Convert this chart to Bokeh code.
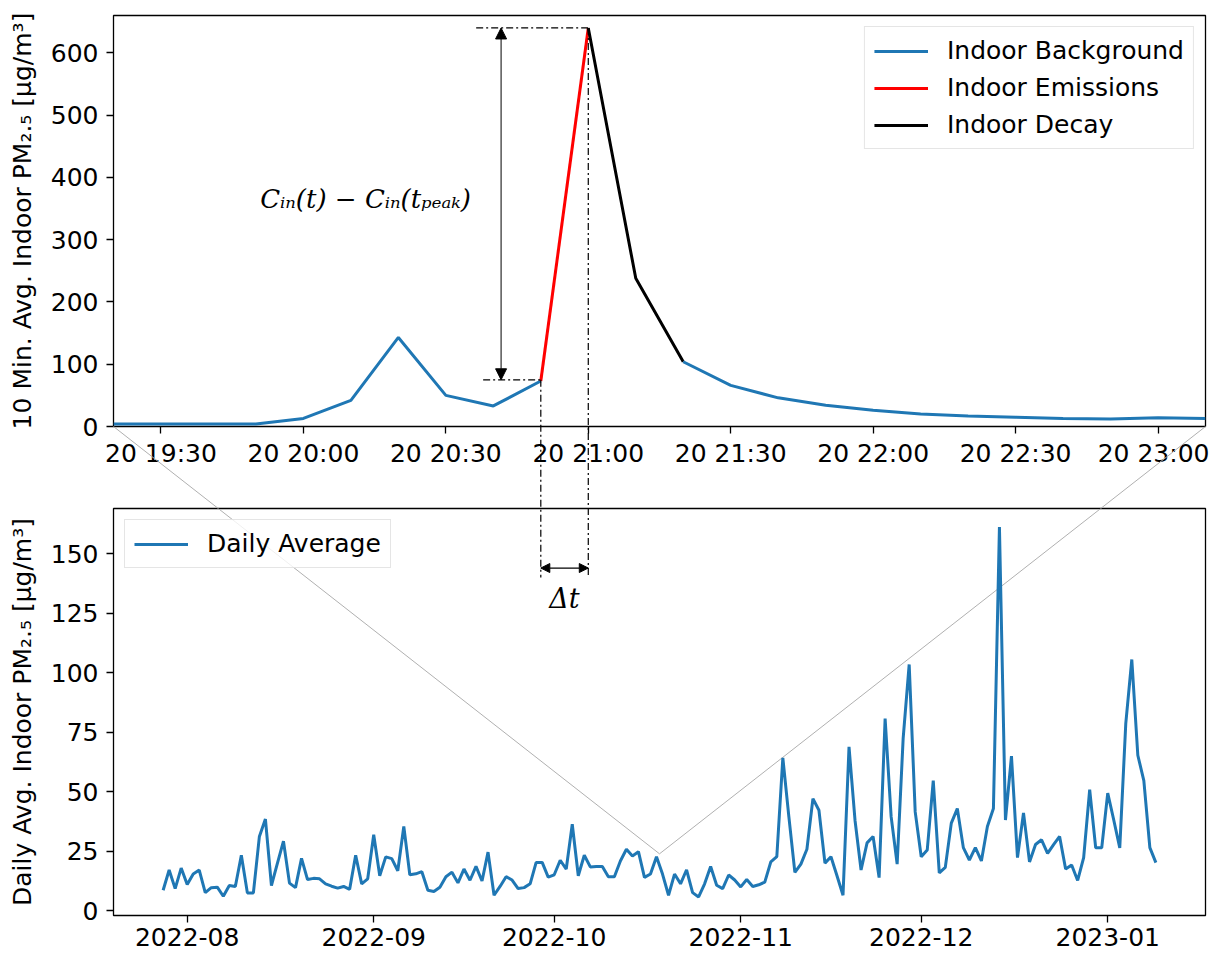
import pandas as pd
from bokeh.plotting import figure
from bokeh.models import (Range1d, FixedTicker, DatetimeTickFormatter, Legend, LegendItem,
                          Arrow, NormalHead, Label)
from bokeh.layouts import column
from bokeh.embed import file_html
from bokeh.resources import INLINE

# ---------------- data ----------------
top_start = "2022-10-20 19:20"
top_end = "2022-10-20 23:10"
top_pm = [4, 4, 4, 4, 13, 42, 143, 50, 33, 73, 640, 238, 104, 66, 46, 34, 26, 20, 17,
          15, 13, 12, 14, 13]
top_ticks = ["2022-10-20 19:30", "2022-10-20 20:00", "2022-10-20 20:30", "2022-10-20 21:00",
             "2022-10-20 21:30", "2022-10-20 22:00", "2022-10-20 22:30", "2022-10-20 23:00"]
top_yticks = [0, 100, 200, 300, 400, 500, 600]

daily_start = "2022-07-28"
daily_end = "2023-01-09"
daily_pm = [8.7, 17.2, 9.4, 18.0, 11.1, 15.5, 17.2, 7.7, 9.8, 10.0, 6.2, 10.7, 10.3, 23.4, 7.6, 7.6,
            31.3, 38.6, 10.7, 20.1, 29.3, 11.7, 9.8, 22.1,
            13.2, 13.7, 13.5, 11.4, 10.4, 9.6, 10.3, 9.1, 23.4, 11.4, 13.5, 32.0, 14.8, 22.7, 22.0,
            16.9, 35.5, 15.2, 15.6, 16.5, 8.7, 8.2, 10.0, 14.4,
            16.3, 11.8, 17.6, 12.9, 18.7, 12.6, 24.7, 6.6, 10.3, 14.4, 13.0, 9.4, 9.8, 11.4, 20.4,
            20.4, 14.2, 15.2, 21.3, 17.6, 36.4, 14.8, 23.4, 18.5,
            18.7, 18.7, 14.4, 14.4, 21.0, 25.9, 23.1, 24.9, 14.1, 15.5, 22.8, 15.5, 6.6, 15.5, 11.4,
            17.3, 7.7, 5.9, 11.4, 18.7, 10.8, 9.4, 15.1, 13.0,
            10.1, 13.2, 10.3, 11.0, 12.1, 20.6, 22.8, 64.3, 39.6, 16.2, 19.7, 25.9, 47.2, 42.3, 20.1,
            22.8, 14.8, 6.6, 68.9, 38.0, 17.2, 28.6, 31.3, 14.0,
            80.8, 39.6, 19.7, 72.6, 103.5, 41.6, 22.8, 25.6, 54.7, 16.0, 18.3, 36.9, 43.0, 26.6, 21.4,
            26.6, 21.0, 35.5, 43.0, 161.2, 38.2, 65.0, 22.4, 41.2,
            20.6, 27.9, 29.9, 24.2, 27.9, 31.3, 17.6, 19.3, 12.8, 22.4, 50.9, 26.5, 26.5, 49.5, 38.2,
            26.5, 78.8, 105.6, 65.4, 54.7, 26.6, 20.3]
bottom_ticks = ["2022-08-01", "2022-09-01", "2022-10-01", "2022-11-01", "2022-12-01", "2023-01-01"]
bottom_yticks = [0, 25, 50, 75, 100, 125, 150]

# segment boundaries (indices into top series)
i_emis_start, i_peak, i_decay_end = 9, 10, 12


def ms(s):
    return pd.Timestamp(s).value / 1e6


top_times = pd.date_range(top_start, top_end, freq="10min")
daily_dates = pd.date_range(daily_start, daily_end, freq="D")
top_t_ms = [t.value / 1e6 for t in top_times]

FONT = "DejaVu Sans"
FS = "25px"
BLUE = "#1f77b4"
GREY = "#b0b0b0"
DAY = 86400000.0

# ranges
T0, T1 = ms(top_start), ms(top_end)
TY0, TY1 = 0, 660
B0 = ms(daily_start) - 8.25 * DAY
B1 = ms(daily_end) + 8.25 * DAY
BY0, BY1 = -1.9, 169

# layout (pixels)
W = 1209
FL, FR = 113, 1205
SPLIT = 475                 # where the top canvas ends and the lower one begins
TOTAL = 957
TOP_FT, TOP_FB = 15, 426
BOT_FT, BOT_FB = 508, 915


def page_y_top(v):
    return TOP_FB - (v - TY0) / (TY1 - TY0) * (TOP_FB - TOP_FT)


def top_v(py):
    return TY0 + (TOP_FB - py) / (TOP_FB - TOP_FT) * (TY1 - TY0)


def page_y_bot(v):
    return BOT_FB - (v - BY0) / (BY1 - BY0) * (BOT_FB - BOT_FT)


def bot_v(py):
    return BY0 + (BOT_FB - py) / (BOT_FB - BOT_FT) * (BY1 - BY0)


def bx(t):
    return B0 + (t - T0) / (T1 - T0) * (B1 - B0)


def tx(b):
    return T0 + (b - B0) / (B1 - B0) * (T1 - T0)


def tfrac(f):
    return T0 + f * (T1 - T0)


def style(p, yticks, xticks, xfmt):
    p.xgrid.visible = False
    p.ygrid.visible = False
    p.outline_line_color = "black"
    p.outline_line_width = 1.3
    p.background_fill_color = "white"
    p.border_fill_color = "white"
    p.yaxis.ticker = FixedTicker(ticks=yticks)
    p.xaxis.ticker = FixedTicker(ticks=[ms(t) for t in xticks])
    p.xaxis.formatter = xfmt
    for ax in (p.xaxis[0], p.yaxis[0]):
        ax.axis_line_color = None
        ax.major_tick_out = 7
        ax.major_tick_in = 0
        ax.major_tick_line_width = 1.3
        ax.major_tick_line_color = "black"
        ax.minor_tick_line_color = None
        ax.major_label_text_font = FONT
        ax.major_label_text_font_size = FS
        ax.major_label_text_color = "black"
        ax.axis_label_text_font = FONT
        ax.axis_label_text_font_size = FS
        ax.axis_label_text_font_style = "normal"
        ax.axis_label_text_color = "black"
    p.xaxis.major_label_standoff = 5
    p.yaxis.major_label_standoff = 8
    p.yaxis.axis_label_standoff = 11


def head(size):
    return NormalHead(size=size, fill_color="black", line_color="black", line_width=1)


def arrow(p, x0, y0, x1, y1, width=1.2, size=10):
    p.add_layout(Arrow(x_start=x0, y_start=y0, x_end=x1, y_end=y1, line_color="black",
                       line_width=width, start=head(size), end=head(size)))


def seg(p, x0, y0, x1, y1, color="black", width=1.2, dash="solid", level="glyph"):
    p.segment(x0=[x0], y0=[y0], x1=[x1], y1=[y1], line_color=color, line_width=width,
              line_dash=dash, level=level)


# ---------------- top panel ----------------
p1 = figure(width=W, height=SPLIT, x_axis_type="datetime", output_backend="svg",
            toolbar_location=None, x_range=Range1d(T0, T1), y_range=Range1d(TY0, TY1),
            min_border_left=FL, min_border_right=W - FR, min_border_top=TOP_FT,
            min_border_bottom=SPLIT - TOP_FB)
style(p1, top_yticks, top_ticks,
      DatetimeTickFormatter(minutes="%d %H:%M", hourmin="%d %H:%M", hours="%d %H:%M",
                            minsec="%d %H:%M", days="%d %H:%M"))
p1.yaxis.axis_label = "10 Min. Avg. Indoor PM\u2082.\u2085 [\u03bcg/m\u00b3]"

r_bg1 = p1.line(top_t_ms[:i_emis_start + 1], top_pm[:i_emis_start + 1], line_color=BLUE, line_width=3)
r_em = p1.line(top_t_ms[i_emis_start:i_peak + 1], top_pm[i_emis_start:i_peak + 1], line_color="red", line_width=3)
r_dec = p1.line(top_t_ms[i_peak:i_decay_end + 1], top_pm[i_peak:i_decay_end + 1], line_color="black", line_width=3)
r_bg2 = p1.line(top_t_ms[i_decay_end:], top_pm[i_decay_end:], line_color=BLUE, line_width=3)

t_emis = top_t_ms[i_emis_start]
t_peak = top_t_ms[i_peak]
v_low = 75
v_peak = top_pm[i_peak]
t_arrow = tfrac(389 / 1096)
t_hl_hi = tfrac(364 / 1096)
t_hl_lo = tfrac(371 / 1096)
DD = "7 3 2 3"
v_dt_arrow = 144
v_dt_end = 140
v_apex = 24
dt_low_top = top_v(page_y_bot(v_dt_end))

# top horizontal guides and the vertical double arrow
seg(p1, t_hl_hi, v_peak, t_peak, v_peak, dash=DD)
seg(p1, t_hl_lo, v_low, t_emis, v_low, dash=DD)
arrow(p1, t_arrow, v_low, t_arrow, v_peak, width=1, size=11)
# vertical guides running down towards the lower panel (unclipped overlay level)
seg(p1, t_emis, v_low, t_emis, dt_low_top, dash=DD, level="overlay")
seg(p1, t_peak, v_peak, t_peak, dt_low_top, dash=DD, level="overlay")
# connectors to lower panel
apex_t = tx((B0 + B1) / 2)
apex_v_top = top_v(page_y_bot(v_apex))
seg(p1, T0, TY0, apex_t, apex_v_top, color=GREY, width=1, level="overlay")
seg(p1, T1, TY0, apex_t, apex_v_top, color=GREY, width=1, level="overlay")

p1.add_layout(Label(x=tfrac(253 / 1096), y=366,
                    text="C\u1d62\u2099(t) \u2212 C\u1d62\u2099(t\u209a\u2091\u2090\u2096)",
                    text_font="DejaVu Serif", text_font_style="italic", text_font_size="26px",
                    text_align="center", text_baseline="middle", text_color="black"))

leg1 = Legend(items=[LegendItem(label="Indoor Background", renderers=[r_bg1]),
                     LegendItem(label="Indoor Emissions", renderers=[r_em]),
                     LegendItem(label="Indoor Decay", renderers=[r_dec])],
              location="top_right")
p1.add_layout(leg1)

# ---------------- bottom panel ----------------
p2 = figure(width=W, height=TOTAL - SPLIT, x_axis_type="datetime", output_backend="svg",
            toolbar_location=None, x_range=Range1d(B0, B1), y_range=Range1d(BY0, BY1),
            min_border_left=FL, min_border_right=W - FR, min_border_top=BOT_FT - SPLIT,
            min_border_bottom=TOTAL - BOT_FB)
style(p2, bottom_yticks, bottom_ticks,
      DatetimeTickFormatter(months="%Y-%m", days="%Y-%m", years="%Y-%m"))
p2.yaxis.axis_label = "Daily Avg. Indoor PM\u2082.\u2085 [\u03bcg/m\u00b3]"

# connectors: the part above the frame is drawn unclipped, the part inside as a normal glyph
apex_b = (B0 + B1) / 2
y_start_b = bot_v(TOP_FB)
for xs in (B0, B1):
    f = (BY1 - y_start_b) / (v_apex - y_start_b)
    x_cross = xs + f * (apex_b - xs)
    seg(p2, xs, y_start_b, x_cross, BY1, color=GREY, width=1, level="overlay")
    seg(p2, x_cross, BY1, apex_b, v_apex, color=GREY, width=1)

r_daily = p2.line(daily_dates, daily_pm, line_color=BLUE, line_width=3)

# continuation of guides from the top panel
seg(p2, bx(t_emis), bot_v(page_y_top(v_low)), bx(t_emis), v_dt_end, dash=DD, level="overlay")
seg(p2, bx(t_peak), bot_v(page_y_top(v_peak)), bx(t_peak), v_dt_end, dash=DD, level="overlay")
arrow(p2, bx(t_emis), v_dt_arrow, bx(t_peak), v_dt_arrow, width=1.3, size=9)
p2.add_layout(Label(x=bx((t_emis + t_peak) / 2), y=131, text="\u0394t", text_font="DejaVu Serif",
                    text_font_style="italic", text_font_size="27px", text_align="center",
                    text_baseline="middle", text_color="black"))

leg2 = Legend(items=[LegendItem(label="Daily Average", renderers=[r_daily])], location="top_left")
p2.add_layout(leg2)

for lg in (leg1, leg2):
    lg.label_text_font = FONT
    lg.label_text_font_size = FS
    lg.label_text_color = "black"
    lg.glyph_width = 54
    lg.label_standoff = 19
    lg.padding = 9
    lg.spacing = 8
    lg.margin = 11
    lg.border_line_color = "#cccccc"
    lg.border_line_width = 1.3
    lg.background_fill_alpha = 0.8

layout = column(p1, p2)
open("out.html", "w").write(file_html(layout, INLINE))
